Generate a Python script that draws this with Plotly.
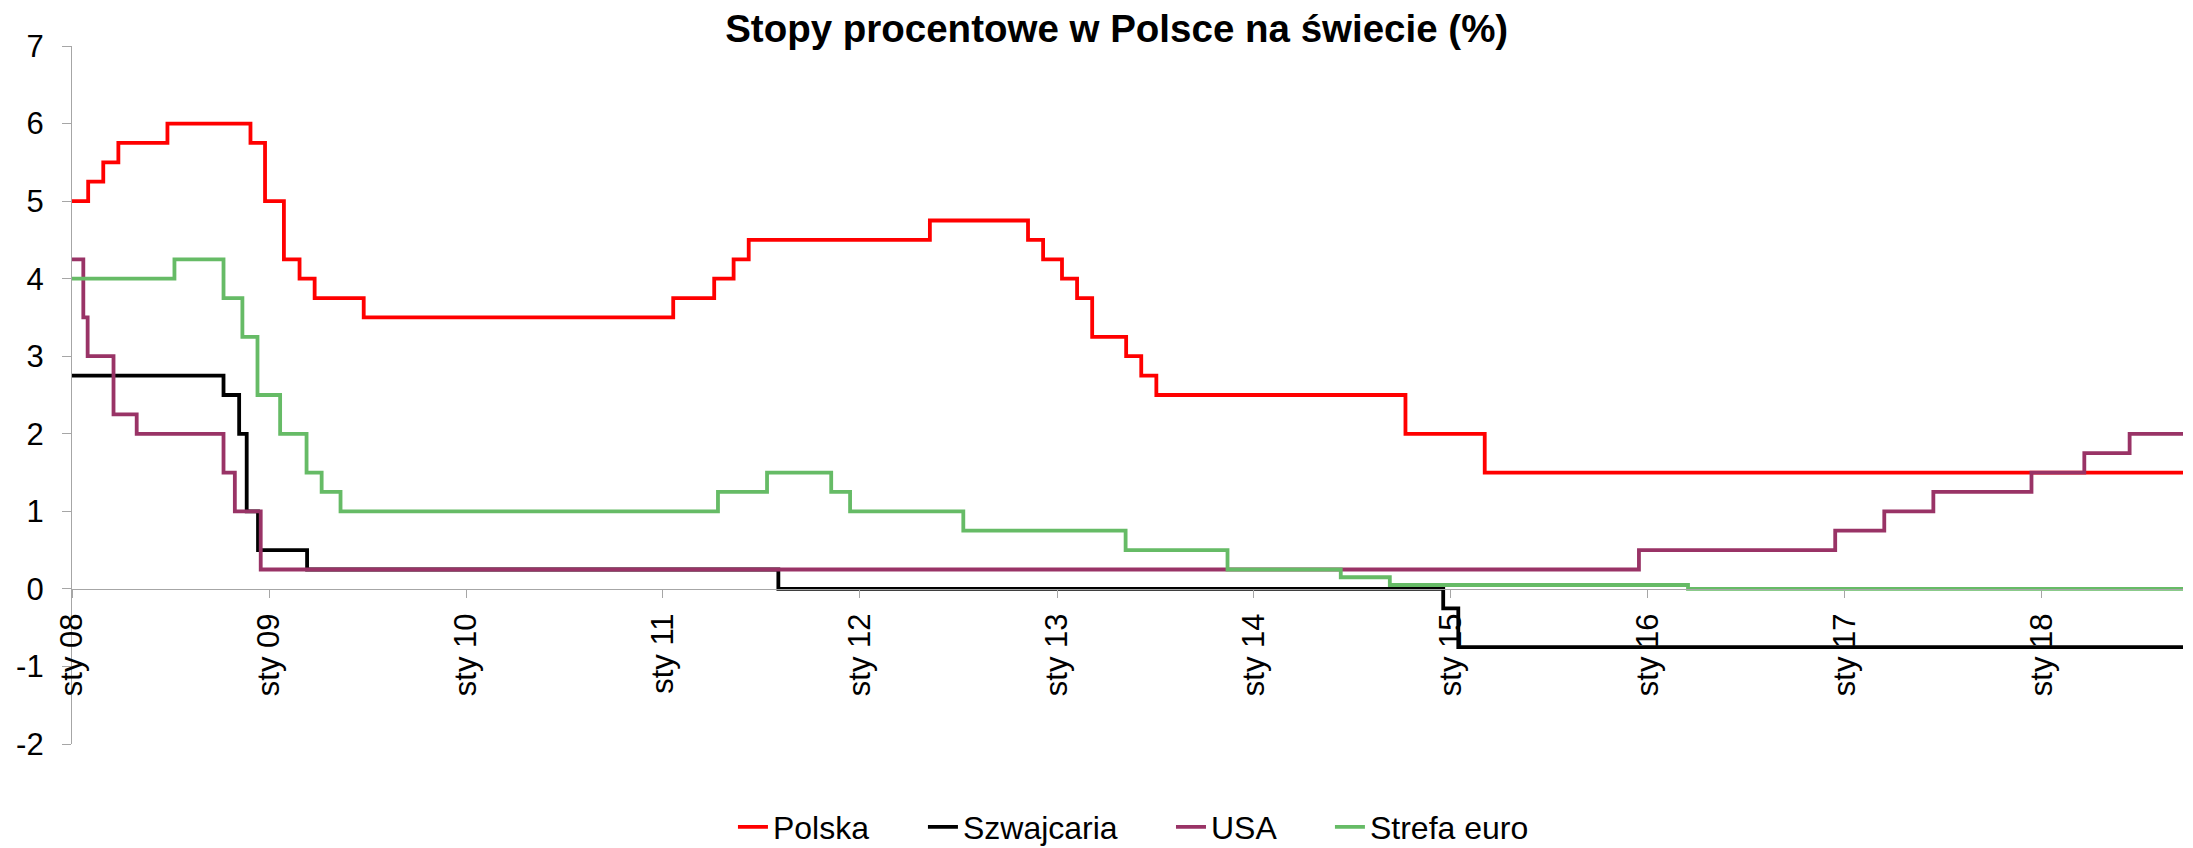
import plotly.graph_objects as go

# dates of rate changes and the rate in force from that date (%)
polska_dates = ["2008-01-01", "2008-01-31", "2008-02-28", "2008-03-27", "2008-06-26",
                "2008-11-27", "2008-12-24", "2009-01-28", "2009-02-26", "2009-03-26",
                "2009-06-25", "2011-01-20", "2011-04-06", "2011-05-12", "2011-06-09",
                "2012-05-10", "2012-11-08", "2012-12-06", "2013-01-10", "2013-02-07",
                "2013-03-07", "2013-05-09", "2013-06-06", "2013-07-04", "2014-10-09",
                "2015-03-05", "2018-09-20"]
polska = [5.0, 5.25, 5.5, 5.75, 6.0, 5.75, 5.0, 4.25, 4.0, 3.75, 3.5, 3.75, 4.0, 4.25, 4.5,
          4.75, 4.5, 4.25, 4.0, 3.75, 3.25, 3.0, 2.75, 2.5, 2.0, 1.5, 1.5]

szwajcaria_dates = ["2008-01-01", "2008-10-08", "2008-11-06", "2008-11-20", "2008-12-11",
                    "2009-03-12", "2011-08-03", "2014-12-18", "2015-01-15", "2018-09-20"]
szwajcaria = [2.75, 2.5, 2.0, 1.0, 0.5, 0.25, 0.0, -0.25, -0.75, -0.75]

usa_dates = ["2008-01-01", "2008-01-22", "2008-01-30", "2008-03-18", "2008-04-30",
             "2008-10-08", "2008-10-29", "2008-12-16", "2015-12-16", "2016-12-14",
             "2017-03-15", "2017-06-14", "2017-12-13", "2018-03-21", "2018-06-13",
             "2018-09-20"]
usa = [4.25, 3.5, 3.0, 2.25, 2.0, 1.5, 1.0, 0.25, 0.5, 0.75, 1.0, 1.25, 1.5, 1.75, 2.0, 2.0]

euro_dates = ["2008-01-01", "2008-07-09", "2008-10-08", "2008-11-12", "2008-12-10",
              "2009-01-21", "2009-03-11", "2009-04-08", "2009-05-13", "2011-04-13",
              "2011-07-13", "2011-11-09", "2011-12-14", "2012-07-11", "2013-05-08",
              "2013-11-13", "2014-06-11", "2014-09-10", "2016-03-16", "2018-09-20"]
euro = [4.0, 4.25, 3.75, 3.25, 2.5, 2.0, 1.5, 1.25, 1.0, 1.25, 1.5, 1.25, 1.0, 0.75, 0.5,
        0.25, 0.15, 0.05, 0.0, 0.0]

x_tickvals = ["%d-01-01" % y for y in range(2008, 2019)]
x_ticktext = ["sty %02d" % (y % 100) for y in range(2008, 2019)]
y_tickvals = [-2, -1, 0, 1, 2, 3, 4, 5, 6, 7]
y_ticktext = ["-2", "-1", "0", "1", "2", "3", "4", "5", "6", "7"]

font = "Liberation Sans, Arial, sans-serif"
axis_grey = "#a6a6a6"

fig = go.Figure()
series = [
    ("Polska", polska_dates, polska, "#ff0000"),
    ("Szwajcaria", szwajcaria_dates, szwajcaria, "#000000"),
    ("USA", usa_dates, usa, "#993366"),
    ("Strefa euro", euro_dates, euro, "#66bb66"),
]
# one legend per series so each entry sits where the reference has it
legend_ids = ["legend", "legend2", "legend3", "legend4"]
legend_x = [0.3131, 0.4031, 0.5206, 0.5959]
for (name, d, v, c), lid in zip(series, legend_ids):
    fig.add_trace(go.Scatter(x=d, y=v, name=name, mode="lines", legend=lid,
                             line=dict(color=c, width=3.8, shape="hv")))

legend_style = dict(orientation="h", xanchor="left", y=-0.1189, yanchor="middle",
                    font=dict(size=32), bgcolor="rgba(0,0,0,0)")

# the page body has an 8px margin, so the figure is a bit smaller than the window
fig.update_layout(
    width=2185, height=840,
    margin=dict(l=64, r=10, t=38, b=104, autoexpand=False),
    paper_bgcolor="white", plot_bgcolor="white",
    font=dict(family=font, size=31, color="black"),
    title=dict(text="Stopy procentowe w Polsce na świecie (%)",
               font=dict(family=font, size=38.5, color="black", weight="bold"),
               x=0.5074, xref="container", xanchor="center",
               y=1 - 21 / 840, yref="container", yanchor="middle"),
    showlegend=True,
)
for lid, lx in zip(legend_ids, legend_x):
    fig.update_layout({lid: dict(legend_style, x=lx)})

fig.update_xaxes(
    type="date", range=["2008-01-01", "2018-09-20"],
    anchor="free", position=2 / 9,
    showline=True, linecolor=axis_grey, linewidth=1.3,
    showgrid=False, zeroline=False,
    tickmode="array", tickvals=x_tickvals, ticktext=x_ticktext,
    ticks="outside", ticklen=8, tickcolor=axis_grey, tickwidth=1.3,
    tickangle=-90, ticklabelstandoff=3, tickfont=dict(size=31),
)
fig.update_yaxes(
    range=[-2, 7], domain=[0, 1],
    showline=True, linecolor=axis_grey, linewidth=1.3,
    showgrid=False, zeroline=False,
    tickmode="array", tickvals=y_tickvals, ticktext=y_ticktext,
    ticks="outside", ticklen=9, tickcolor=axis_grey, tickwidth=1.3,
    ticklabelstandoff=12, tickfont=dict(size=31),
)

fig.write_html("out.html")
